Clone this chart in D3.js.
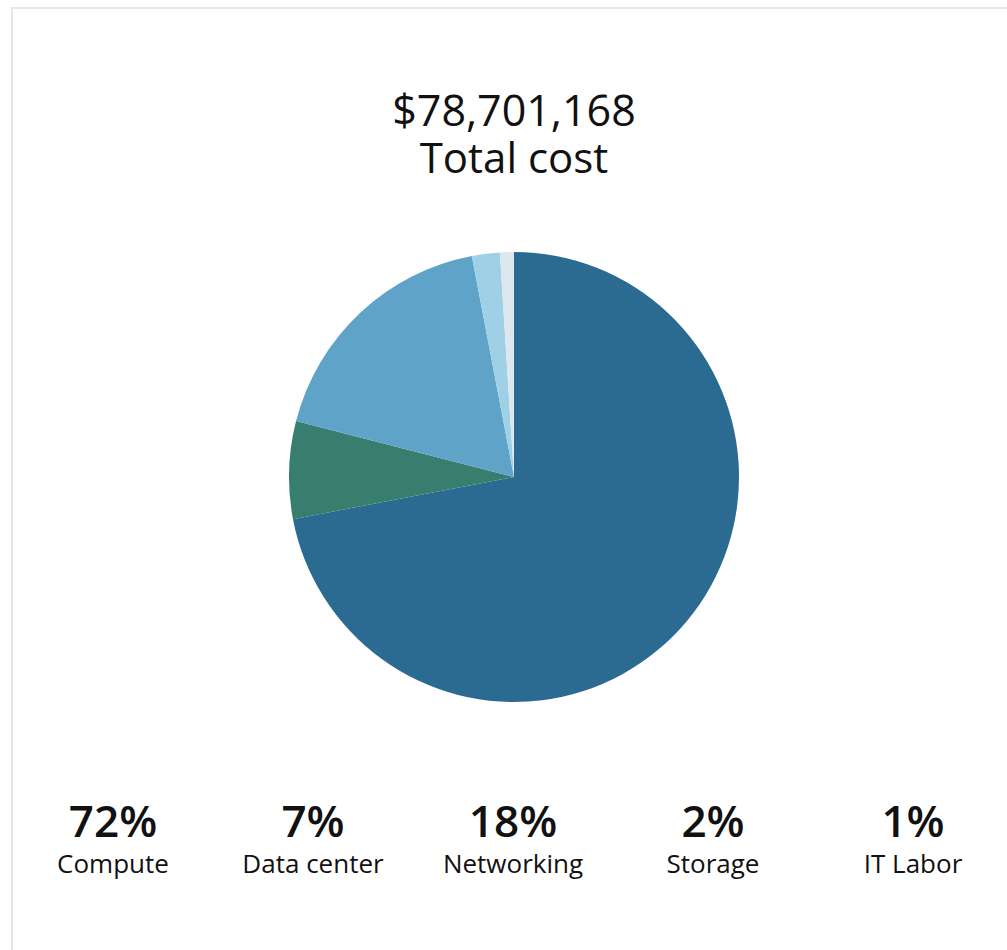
<!DOCTYPE html>
<html><head><meta charset="utf-8">
<script src="https://cdn.jsdelivr.net/npm/d3@7"></script>
<style>html,body{margin:0;padding:0;background:#fff;}</style>
</head><body>
<svg id="c" width="1007" height="950"></svg>
<script>
const categories = ["Compute", "Data center", "Networking", "Storage", "IT Labor"];
const percents = [72, 7, 18, 2, 1];
const colors = ["#2b6a91", "#377e6f", "#5fa3c8", "#9fd0e6", "#dde8ee"];
const totalLabel = "$78,701,168";
const subtitle = "Total cost";

const svg = d3.select("#c");
const W = 1007, H = 950;
svg.append("rect").attr("x", 12).attr("y", 8).attr("width", W).attr("height", H)
  .attr("fill", "#fff").attr("stroke", "#e6e6e6").attr("stroke-width", 2);

const font = "'Segoe UI', 'Open Sans', 'Noto Sans', sans-serif";
svg.append("text").attr("x", 514).attr("y", 126).attr("text-anchor", "middle")
  .attr("font-family", font).attr("font-size", 43).attr("font-weight", 500).attr("fill", "#111").text(totalLabel);
svg.append("text").attr("x", 514).attr("y", 173).attr("text-anchor", "middle")
  .attr("font-family", font).attr("font-size", 42).attr("fill", "#111").text(subtitle);

const data = categories.map((c, i) => ({cat: c, v: percents[i], col: colors[i]}));
const pie = d3.pie().value(d => d.v).sort(null);
const arc = d3.arc().innerRadius(0).outerRadius(225);
const g = svg.append("g").attr("transform", "translate(514,477)");
g.selectAll("path").data(pie(data)).join("path")
  .attr("d", arc).attr("fill", d => d.data.col);

const x = d3.scalePoint().domain(categories).range([113, 913]);
const lg = svg.append("g");
lg.selectAll("text.p").data(data).join("text").attr("class", "p")
  .attr("x", d => x(d.cat)).attr("y", 837).attr("text-anchor", "middle")
  .attr("font-family", font).attr("font-size", 44).attr("font-weight", 600).attr("fill", "#111")
  .text(d => d.v + "%");
lg.selectAll("text.l").data(data).join("text").attr("class", "l")
  .attr("x", d => x(d.cat)).attr("y", 873).attr("text-anchor", "middle")
  .attr("font-family", font).attr("font-size", 26).attr("fill", "#111")
  .text(d => d.cat);
</script>
</body></html>
